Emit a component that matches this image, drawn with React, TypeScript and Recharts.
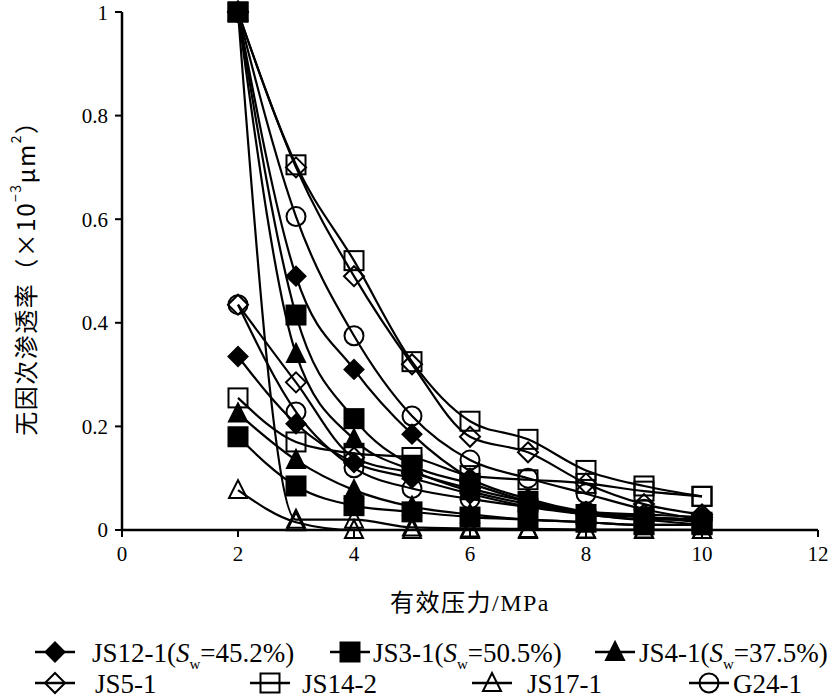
import React from 'react';
import { LineChart, Line, XAxis, YAxis } from 'recharts';

// effective pressure, MPa
const pressure = [2, 3, 4, 5, 6, 7, 8, 9, 10];

// loading branch (pressure going up)
const loadJS12 = [1, 0.49, 0.31, 0.185, 0.1, 0.06, 0.035, 0.025, 0.02];
const loadJS3 = [1, 0.415, 0.215, 0.125, 0.09, 0.055, 0.03, 0.025, 0.015];
const loadJS4 = [1, 0.34, 0.175, 0.115, 0.075, 0.05, 0.03, 0.02, 0.01];
const loadJS5 = [1, 0.7, 0.49, 0.32, 0.18, 0.15, 0.09, 0.05, 0.03];
const loadJS14 = [1, 0.705, 0.52, 0.325, 0.21, 0.175, 0.115, 0.085, 0.065];
const loadJS17 = [1, 0.02, 0.02, 0.005, 0.003, 0.002, 0.001, 0.001, 0];
const loadG24 = [1, 0.605, 0.375, 0.22, 0.135, 0.1, 0.07, 0.04, 0.02];

// unloading branch (pressure going back down)
const unloadJS12 = [0.335, 0.205, 0.13, 0.1, 0.07, 0.045, 0.03, 0.02, 0.02];
const unloadJS3 = [0.18, 0.085, 0.047, 0.035, 0.025, 0.02, 0.015, 0.01, 0.01];
const unloadJS4 = [0.225, 0.135, 0.077, 0.045, 0.03, 0.02, 0.015, 0.01, 0.01];
const unloadJS5 = [0.435, 0.285, 0.14, 0.11, 0.08, 0.055, 0.035, 0.03, 0.025];
const unloadJS14 = [0.255, 0.17, 0.148, 0.14, 0.105, 0.097, 0.09, 0.075, 0.065];
const unloadJS17 = [0.077, 0.015, 0, 0, 0, 0, 0, 0, 0];
const unloadG24 = [0.435, 0.228, 0.12, 0.08, 0.06, 0.045, 0.035, 0.025, 0.02];

const xTicks = [0, 2, 4, 6, 8, 10, 12];
const yTicks = [0, 0.2, 0.4, 0.6, 0.8, 1];

const series = [
  { name: 'JS12-1', sw: '45.2%', load: loadJS12, unload: unloadJS12, marker: 'diamondF' },
  { name: 'JS3-1', sw: '50.5%', load: loadJS3, unload: unloadJS3, marker: 'squareF' },
  { name: 'JS4-1', sw: '37.5%', load: loadJS4, unload: unloadJS4, marker: 'triangleF' },
  { name: 'JS5-1', sw: '', load: loadJS5, unload: unloadJS5, marker: 'diamondO' },
  { name: 'JS14-2', sw: '', load: loadJS14, unload: unloadJS14, marker: 'squareO' },
  { name: 'JS17-1', sw: '', load: loadJS17, unload: unloadJS17, marker: 'triangleO' },
  { name: 'G24-1', sw: '', load: loadG24, unload: unloadG24, marker: 'circleO' },
];

const rows = pressure.map((p, i) => {
  const r: Record<string, number> = { p };
  series.forEach((s) => {
    r[s.name + '_load'] = s.load[i];
    r[s.name + '_unload'] = s.unload[i];
  });
  return r;
});

const serif = 'Liberation Serif, DejaVu Serif, serif';
const cjk = 'Liberation Serif, Noto Sans CJK SC, serif';

function Marker({ cx, cy, kind }: { cx: number; cy: number; kind: string }) {
  const filled = kind.endsWith('F');
  const fill = filled ? '#000' : 'none';
  const common = { fill, stroke: '#000', strokeWidth: 2 };
  if (kind.startsWith('diamond')) {
    const d = filled ? 9.5 : 10;
    return <path d={`M${cx},${cy - d}L${cx + d},${cy}L${cx},${cy + d}L${cx - d},${cy}Z`} {...common} />;
  }
  if (kind.startsWith('square')) {
    const h = 9.5;
    return <rect x={cx - h} y={cy - h} width={2 * h} height={2 * h} {...common} />;
  }
  if (kind.startsWith('triangle')) {
    const h = 9;
    return <path d={`M${cx},${cy - h - 1}L${cx + h},${cy + h - 1}L${cx - h},${cy + h - 1}Z`} {...common} />;
  }
  return <circle cx={cx} cy={cy} r={9.5} {...common} />;
}

function YTitle(props: any) {
  const vb = props.viewBox || { x: 52, y: 12, width: 70, height: 518 };
  const cx = 24;
  const cy = vb.y + vb.height / 2 + 1;
  return (
    <text
      x={cx}
      y={cy}
      transform={`rotate(-90 ${cx} ${cy})`}
      textAnchor="middle"
      dominantBaseline="central"
      fontFamily="Noto Sans CJK SC, sans-serif"
      fontSize={24}
      letterSpacing={1.5}
      fill="#000"
    >
      无因次渗透率（×10
      <tspan dy={-9} fontSize={14}>−3</tspan>
      <tspan dy={9}>μm</tspan>
      <tspan dy={-9} fontSize={14}>2</tspan>
      <tspan dy={9}>）</tspan>
    </text>
  );
}

function XTitle(props: any) {
  const vb = props.viewBox || { x: 122, y: 530, width: 696, height: 60 };
  return (
    <text
      x={vb.x + vb.width / 2}
      y={vb.y + 73}
      textAnchor="middle"
      dominantBaseline="central"
      fontFamily={cjk}
      fontSize={24}
      letterSpacing={1.5}
      fill="#000"
    >
      有效压力/MPa
    </text>
  );
}

const legendPos = [
  { x: 35, y: 652, tx: 92 },
  { x: 330, y: 652, tx: 373 },
  { x: 595, y: 652, tx: 639 },
  { x: 35, y: 683, tx: 95 },
  { x: 250, y: 683, tx: 302 },
  { x: 472, y: 683, tx: 527 },
  { x: 689, y: 683, tx: 733 },
];

function LegendBox() {
  return (
    <svg width={834} height={700} style={{ position: 'absolute', left: 0, top: 0, pointerEvents: 'none' }}>
      {series.map((s, i) => {
        const p = legendPos[i];
        return (
          <g key={s.name}>
            <line x1={p.x} x2={p.x + 40} y1={p.y} y2={p.y} stroke="#000" strokeWidth={2.5} />
            <Marker cx={p.x + 20} cy={p.y} kind={s.marker} />
            <text x={p.tx} y={p.y + 10} fontFamily={serif} fontSize={27} fill="#000">
              {s.sw ? (
                <>
                  {s.name}(<tspan fontStyle="italic">S</tspan>
                  <tspan dy={7} fontSize={15}>w</tspan>
                  <tspan dy={-7}>={s.sw})</tspan>
                </>
              ) : (
                s.name
              )}
            </text>
          </g>
        );
      })}
    </svg>
  );
}

export default function App() {
  return (
    <div style={{ position: 'absolute', left: 0, top: 0, width: 834, height: 700, background: '#fff' }}>
      <LineChart width={834} height={700} data={rows} margin={{ top: 12, right: 16, left: 52, bottom: 110 }}>
        <XAxis
          dataKey="p"
          type="number"
          domain={[0, 12]}
          ticks={xTicks}
          height={60}
          axisLine={{ stroke: '#000', strokeWidth: 2.5 }}
          tickLine={{ stroke: '#000', strokeWidth: 2 }}
          tickSize={7}
          tickMargin={9}
          tick={{ fill: '#000', fontFamily: serif, fontSize: 21 }}
          label={<XTitle />}
        />
        <YAxis
          type="number"
          domain={[0, 1]}
          ticks={yTicks}
          width={70}
          axisLine={{ stroke: '#000', strokeWidth: 2.5 }}
          tickLine={{ stroke: '#000', strokeWidth: 2 }}
          tickSize={7}
          tickMargin={7}
          tick={{ fill: '#000', fontFamily: serif, fontSize: 21 }}
          tickFormatter={(v: number) => String(v)}
          label={<YTitle />}
        />
        {series.flatMap((s) =>
          ['_unload', '_load'].map((suffix) => {
            const key = s.name + suffix;
            return (
              <Line
                key={key}
                dataKey={key}
                type="monotone"
                stroke="#000"
                strokeWidth={2.2}
                isAnimationActive={false}
                legendType="none"
                dot={(p: any) => <Marker key={key + p.index} cx={p.cx} cy={p.cy} kind={s.marker} />}
                activeDot={false}
              />
            );
          })
        )}
      </LineChart>
      <LegendBox />
    </div>
  );
}
